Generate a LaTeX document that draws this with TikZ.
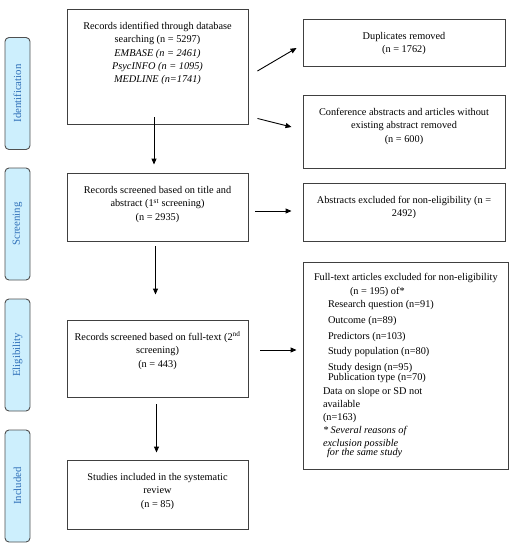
\documentclass[tikz,border=0pt]{standalone}
\usepackage{fontspec}
\setmainfont{Liberation Serif}
\usetikzlibrary{arrows.meta}
\definecolor{sidefill}{HTML}{CDEFFD}
\definecolor{sidetext}{HTML}{2E6FB8}
\definecolor{sidedraw}{HTML}{505050}
\definecolor{boxdraw}{HTML}{404040}
\newcommand{\bxtext}[3]{\begin{minipage}[c][#2][t]{#1}\centering\rule{0pt}{20.5pt}#3\end{minipage}}
\begin{document}
\begin{tikzpicture}[x=1pt,y=-1pt,
  font=\fontsize{10.3}{13.3}\selectfont,
  flowbox/.style={draw=boxdraw,line width=0.9pt,inner sep=0pt,fill=white},
  sidebox/.style={draw=sidedraw,line width=0.9pt,fill=sidefill,rounded corners=4pt,
    minimum width=112pt,minimum height=25pt,inner sep=0pt,rotate=90,
    text=sidetext,font=\fontsize{10.8}{13}\selectfont},
  arr/.style={line width=0.9pt,-{Triangle[length=6pt,width=5pt]}}]
\useasboundingbox (0,0) rectangle (514,550);
% side labels
\node[sidebox] (s1) at (17.5,93.5) {Identification};
\node[sidebox] (s2) at (17.5,224) {Screening};
\node[sidebox] (s3) at (17.5,355) {Eligibility};
\node[sidebox] (s4) at (17.5,486) {Included};
% main column
\node[flowbox] (b1) at (157.5,66.5) {\bxtext{181pt}{115pt}{Records identified through database\\
  searching (n = 5297)\\ \textit{EMBASE (n = 2461)}\\ \textit{PsycINFO (n = 1095)}\\ \textit{MEDLINE (n=1741)}}};
\node[flowbox] (b2) at (157.5,207) {\bxtext{181pt}{68pt}{Records screened based on title and\\
  abstract (1\textsuperscript{st} screening)\\ (n = 2935)}};
\node[flowbox] (b3) at (157.5,358.5) {\bxtext{181pt}{77pt}{Records screened based on full-text (2\textsuperscript{nd}\\
  screening)\\ (n = 443)}};
\node[flowbox] (b4) at (157.5,494.5) {\bxtext{181pt}{69pt}{Studies included in the systematic\\
  review\\ (n = 85)}};
% right column
\node[flowbox] (dup) at (404,42.5) {\bxtext{202pt}{47pt}{Duplicates removed\\ (n = 1762)}};
\node[flowbox] (conf) at (404,131.5) {\bxtext{202pt}{73pt}{Conference abstracts and articles without\\
  existing abstract removed\\ (n = 600)}};
\node[flowbox] (abs) at (404,212) {\bxtext{202pt}{58pt}{Abstracts excluded for non-eligibility (n =\\ 2492)}};
\node[flowbox] (ft) at (405.5,365.5) {\begin{minipage}[c][207pt][t]{205pt}\raggedright
  \rule{0pt}{18.5pt}\hspace*{11pt}Full-text articles excluded for non-eligibility\\[0.7pt]
  \hspace*{47pt}(n = 195) of*\\
  \hspace*{25pt}Research question (n=91)\\[2.7pt]
  \hspace*{25pt}Outcome (n=89)\\[2.7pt]
  \hspace*{25pt}Predictors (n=103)\\[1.7pt]
  \hspace*{25pt}Study population (n=80)\\[2.4pt]
  \hspace*{25pt}Study design (n=95)\\[-3.3pt]
  \hspace*{25pt}Publication type (n=70)\\[0.7pt]
  \hspace*{20pt}Data on slope or SD not\\[-0.7pt]
  \hspace*{20pt}available\\
  \hspace*{20pt}(n=163)\\[-0.7pt]
  \hspace*{20pt}\textit{* Several reasons of}\\
  \hspace*{20pt}\textit{exclusion possible}\\[-4.3pt]
  \hspace*{24pt}\textit{for the same study}
  \end{minipage}};
% connectors
\draw[arr] ([xshift=-3.5pt,yshift=7pt]b1.south) -- ([xshift=-3.5pt,yshift=8pt]b2.north);
\draw[arr] ([xshift=-2pt,yshift=-5pt]b2.south) -- ([xshift=-2pt,yshift=25pt]b3.north);
\draw[arr] ([xshift=-1pt,yshift=-7pt]b3.south) -- ([xshift=-1pt,yshift=7pt]b4.north);
\draw[arr] ([xshift=9pt,yshift=-4.5pt]b1.east) -- ([xshift=-6pt,yshift=-5.5pt]dup.west);
\draw[arr] ([xshift=9pt,yshift=6pt]b1.south east) -- ([xshift=-11pt,yshift=4.5pt]conf.west);
\draw[arr] ([xshift=7pt,yshift=-4pt]b2.east) -- ([xshift=-11pt,yshift=1pt]abs.west);
\draw[arr] ([xshift=12pt,yshift=8.5pt]b3.east) -- ([xshift=-6pt,yshift=15.5pt]ft.west);
\end{tikzpicture}
\end{document}
